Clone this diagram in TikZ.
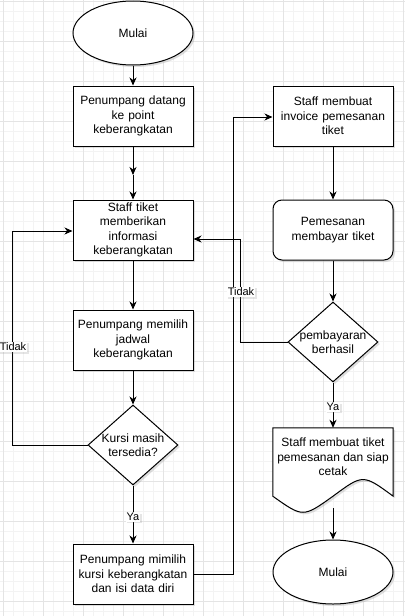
\documentclass[tikz,border=0pt]{standalone}
\usepackage{fontspec}
\setmainfont{Liberation Sans}
\usetikzlibrary{arrows.meta,shapes.geometric,shadows}
\definecolor{gridminor}{HTML}{F3F3F3}
\definecolor{gridmajor}{HTML}{E4E4E4}
\begin{document}
\begin{tikzpicture}[x=1pt,y=-1pt,
  shd/.style={drop shadow={shadow xshift=2pt,shadow yshift=-2pt,opacity=0.25,fill=gray}},
  nodefont/.style={font=\fontsize{12}{14.4}\selectfont},
  procbox/.style={draw,line width=1pt,fill=white,minimum width=120pt,minimum height=60pt,
    text width=112pt,align=center,inner sep=2pt,nodefont,shd},
  roundbox/.style={procbox,rounded corners=9pt},
  termnode/.style={draw,line width=1pt,fill=white,ellipse,minimum width=120pt,minimum height=64pt,
    inner sep=0pt,nodefont,shd},
  decision/.style={draw,line width=1pt,fill=white,diamond,minimum width=90pt,minimum height=80pt,
    inner sep=0pt,shd},
  dtext/.style={align=center,nodefont,inner sep=0pt},
  edge/.style={line width=1pt,-{Stealth[length=8pt,width=7pt,inset=2.5pt]}},
  lbl/.style={fill=white,font=\fontsize{11}{13}\selectfont,inner sep=1pt,
    drop shadow={shadow xshift=1.5pt,shadow yshift=-1.5pt,opacity=0.2,fill=gray}}
]
\useasboundingbox (0,0) rectangle (405,616);
\fill[white] (0,0) rectangle (405,616);
% grid
\foreach \gx in {3,13,...,403} \draw[gridminor,line width=0.8pt] (\gx,0) -- (\gx,616);
\foreach \gy in {1,11,...,611} \draw[gridminor,line width=0.8pt] (0,\gy) -- (405,\gy);
\foreach \gx in {3,43,...,403} \draw[gridmajor,line width=0.8pt] (\gx,0) -- (\gx,616);
\foreach \gy in {1,41,...,601} \draw[gridmajor,line width=0.8pt] (0,\gy) -- (405,\gy);

% left column
\node[termnode] (start) at (133,33) {Mulai};
\node[procbox] (b1) at (133,116) {Penumpang datang\\ke point\\keberangkatan};
\node[procbox] (b2) at (133,230) {Staff tiket\\memberikan\\informasi\\keberangkatan};
\node[procbox] (b3) at (133,340) {Penumpang memilih\\jadwal\\keberangkatan};
\node[decision] (d1) at (133,445) {};
\node[dtext] (d1t) at (133,445) {Kursi masih\\tersedia?};
\node[procbox] (b4) at (133,574) {Penumpang mimilih\\kursi keberangkatan\\dan isi data diri};

% right column
\node[procbox] (r1) at (333,116) {Staff membuat\\invoice pemesanan\\tiket};
\node[roundbox] (r2) at (333,230) {Pemesanan\\membayar tiket};
\node[decision] (d2) at (333,342) {};
\node[dtext] (d2t) at (333,342) {pembayaran\\berhasil};
\node[minimum width=120pt,minimum height=80pt,inner sep=0pt] (doc) at (333,468) {};
\draw[line width=1pt,fill=white,shd]
  (doc.north west) -- (doc.north east) -- ([yshift=12pt]doc.south east)
  .. controls (363,474) .. ([yshift=12pt]doc.south)
  .. controls (303,517.6) .. ([yshift=12pt]doc.south west) -- cycle;
\node[dtext] (doct) at (333,457) {Staff membuat tiket\\pemesanan dan siap\\cetak};
\node[termnode] (end) at (333,572) {Mulai};
\coordinate (docb) at (333,508);

% connectors
\coordinate (m1) at (133,175);
\draw[edge] (start.south) -- (b1.north);
\draw[edge] (b1.south) -- (m1);
\draw[edge] (m1) -- (b2.north);
\draw[edge] (b2.south) -- (b3.north);
\draw[edge] (b3.south) -- (d1.north);
\draw[edge] (d1.west) -- ++(-75,0) |- ([yshift=-1pt]b2.west);
\draw[edge] (d1.south) -- (b4.north);
\draw[edge] (b4.east) -- ++(40,0) |- ([yshift=-1pt]r1.west);
\draw[edge] (r1.south) -- (r2.north);
\draw[edge] (r2.south) -- (d2.north);
\draw[edge] (d2.west) -- ++(-47,0) |- ([yshift=-9pt]b2.east);
\draw[edge] (d2.south) -- (doc.north);
\draw[edge] (docb) -- (end.north);

% labels
\node[lbl] (l1) at (13,347) {Tidak};
\node[lbl] (l2) at (133,517) {Ya};
\node[lbl] (l3) at (241,292) {Tidak};
\node[lbl] (l4) at (333,407) {Ya};
\end{tikzpicture}
\end{document}
